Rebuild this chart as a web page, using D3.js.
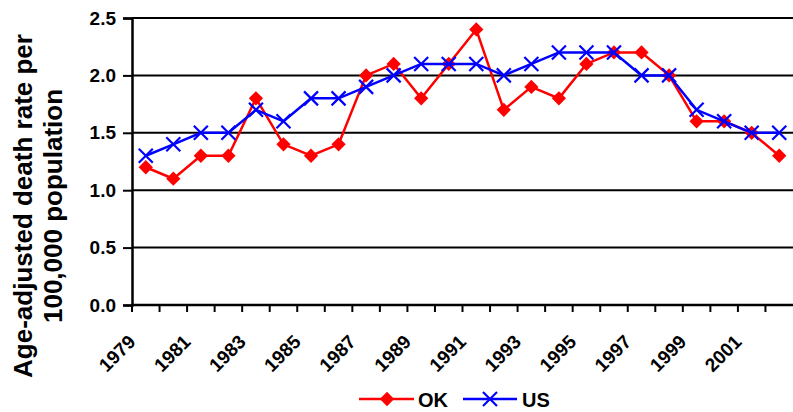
<!DOCTYPE html>
<html>
<head>
<meta charset="utf-8">
<script src="https://cdn.jsdelivr.net/npm/d3@7"></script>
<style>
  body { margin: 0; background: #fff; }
  text { font-family: "Liberation Sans", Arial, sans-serif; font-weight: bold; }
</style>
</head>
<body>
<script>
var years = d3.range(1979, 2003);
var okValues = [1.2, 1.1, 1.3, 1.3, 1.8, 1.4, 1.3, 1.4, 2.0, 2.1, 1.8, 2.1,
                2.4, 1.7, 1.9, 1.8, 2.1, 2.2, 2.2, 2.0, 1.6, 1.6, 1.5, 1.3];
var usValues = [1.3, 1.4, 1.5, 1.5, 1.7, 1.6, 1.8, 1.8, 1.9, 2.0, 2.1, 2.1,
                2.1, 2.0, 2.1, 2.2, 2.2, 2.2, 2.0, 2.0, 1.7, 1.6, 1.5, 1.5];
var yTicks = [0, 0.5, 1.0, 1.5, 2.0, 2.5];
var xLabels = [1979, 1981, 1983, 1985, 1987, 1989, 1991, 1993, 1995, 1997, 1999, 2001];

var W = 793, H = 412;
var mLeft = 132, mRight = 793, mTop = 18, mBottom = 305;

var svg = d3.select("body").append("svg")
    .attr("width", W)
    .attr("height", H);

var x = d3.scaleBand().domain(years).range([mLeft, mRight]);
var y = d3.scaleLinear().domain([0, 2.5]).range([mBottom, mTop]);

// gridlines
svg.selectAll(".grid")
  .data(yTicks.slice(1))
  .enter().append("line")
  .attr("x1", mLeft).attr("x2", mRight)
  .attr("y1", d => y(d)).attr("y2", d => y(d))
  .attr("stroke", "#000").attr("stroke-width", 2);

// y axis
var yAxis = svg.append("g")
  .attr("transform", "translate(" + mLeft + ",0)")
  .call(d3.axisLeft(y).tickValues(yTicks).tickFormat(d3.format(".1f")).tickSize(9).tickPadding(7));
yAxis.select(".domain").attr("stroke-width", 2.5);
yAxis.selectAll(".tick line").attr("stroke-width", 2);
yAxis.selectAll("text").style("font-size", "19px").attr("fill", "#000");

// x axis: ticks at category boundaries
var xAxis = svg.append("g");
xAxis.append("line")
  .attr("x1", mLeft - 1).attr("x2", mRight)
  .attr("y1", mBottom).attr("y2", mBottom)
  .attr("stroke", "#000").attr("stroke-width", 2.5);
xAxis.selectAll(".xt")
  .data(years)
  .enter().append("line")
  .attr("x1", d => x(d)).attr("x2", d => x(d))
  .attr("y1", mBottom).attr("y2", mBottom + 7)
  .attr("stroke", "#000").attr("stroke-width", 2);
xAxis.selectAll(".xl")
  .data(xLabels)
  .enter().append("text")
  .attr("transform", d => "translate(" + (x(d) + x.bandwidth() / 2 - 9) + "," + (mBottom + 38) + ") rotate(-45)")
  .attr("text-anchor", "end")
  .style("font-size", "19px")
  .text(d => d);

// y title
svg.append("text")
  .attr("transform", "translate(32,206) rotate(-90)")
  .attr("text-anchor", "middle")
  .style("font-size", "26px")
  .text("Age-adjusted death rate per");
svg.append("text")
  .attr("transform", "translate(62,206) rotate(-90)")
  .attr("text-anchor", "middle")
  .style("font-size", "26px")
  .text("100,000 population");

var cx = d => x(d) + x.bandwidth() / 2;
var line = d3.line().x(d => cx(d[0])).y(d => y(d[1]));

var okData = years.map((yr, i) => [yr, okValues[i]]);
var usData = years.map((yr, i) => [yr, usValues[i]]);

var diamond = d3.symbol().type(d3.symbolDiamond2).size(130);

svg.append("path").datum(okData)
  .attr("d", line).attr("fill", "none")
  .attr("stroke", "#ff0000").attr("stroke-width", 2.5);
svg.selectAll(".okm")
  .data(okData)
  .enter().append("path")
  .attr("transform", d => "translate(" + cx(d[0]) + "," + y(d[1]) + ")")
  .attr("d", diamond)
  .attr("fill", "#ff0000");

svg.append("path").datum(usData)
  .attr("d", line).attr("fill", "none")
  .attr("stroke", "#0000ff").attr("stroke-width", 2.5);

function cross(g, s) {
  g.append("line").attr("x1", -s).attr("y1", -s).attr("x2", s).attr("y2", s);
  g.append("line").attr("x1", -s).attr("y1", s).attr("x2", s).attr("y2", -s);
}
svg.selectAll(".usm")
  .data(usData)
  .enter().append("g")
  .attr("transform", d => "translate(" + cx(d[0]) + "," + y(d[1]) + ")")
  .attr("stroke", "#0000ff").attr("stroke-width", 2.2)
  .each(function() { cross(d3.select(this), 7); });

// legend
var lg = svg.append("g").attr("transform", "translate(0,399)");
lg.append("line").attr("x1", 359).attr("x2", 414).attr("y1", 0).attr("y2", 0)
  .attr("stroke", "#ff0000").attr("stroke-width", 2.5);
lg.append("path").attr("transform", "translate(387,0)").attr("d", diamond).attr("fill", "#ff0000");
lg.append("text").attr("x", 418).attr("y", 7.5).style("font-size", "20px").text("OK");
lg.append("line").attr("x1", 463).attr("x2", 517).attr("y1", 0).attr("y2", 0)
  .attr("stroke", "#0000ff").attr("stroke-width", 2.5);
var lc = lg.append("g").attr("transform", "translate(490,0)")
  .attr("stroke", "#0000ff").attr("stroke-width", 2.2);
cross(lc, 7);
lg.append("text").attr("x", 522).attr("y", 7.5).style("font-size", "20px").text("US");
</script>
</body>
</html>
